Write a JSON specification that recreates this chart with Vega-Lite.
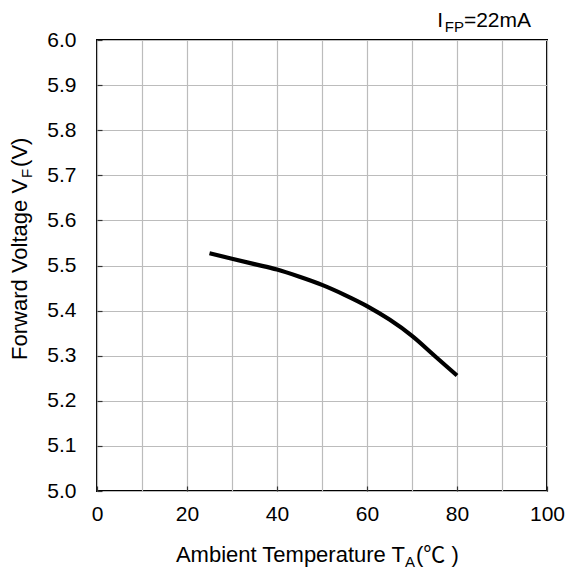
{
  "$schema": "https://vega.github.io/schema/vega-lite/v6.json",
  "width": 450,
  "height": 451,
  "autosize": "none",
  "padding": {"left": 97, "top": 40, "right": 23, "bottom": 81},
  "background": "white",
  "config": {
    "view": {"stroke": "black", "strokeWidth": 2},
    "font": "Liberation Sans",
    "axis": {
      "domain": false,
      "ticks": true,
      "tickSize": -5,
      "tickColor": "#333333",
      "tickWidth": 1.2,
      "labelFontSize": 21,
      "labelColor": "black",
      "labelFont": "Liberation Sans",
      "labelFlush": false,
      "labelOverlap": false,
      "gridColor": "#bcbcbc",
      "gridWidth": 1.2,
      "gridOpacity": 1,
      "title": null
    }
  },
  "layer": [
    {
      "data": {
        "values": [
          {"temp": 25, "vf": 5.527},
          {"temp": 30, "vf": 5.515},
          {"temp": 35, "vf": 5.503},
          {"temp": 40, "vf": 5.491},
          {"temp": 45, "vf": 5.475},
          {"temp": 50, "vf": 5.457},
          {"temp": 55, "vf": 5.435},
          {"temp": 60, "vf": 5.410},
          {"temp": 65, "vf": 5.380},
          {"temp": 70, "vf": 5.344},
          {"temp": 75, "vf": 5.300},
          {"temp": 80, "vf": 5.256}
        ]
      },
      "mark": {"type": "line", "interpolate": "monotone", "color": "black", "strokeWidth": 4.2},
      "encoding": {
        "x": {
          "field": "temp",
          "type": "quantitative",
          "scale": {"domain": [0, 100], "nice": false, "zero": false},
          "axis": {
            "values": [0, 10, 20, 30, 40, 50, 60, 70, 80, 90, 100],
            "labelExpr": "datum.value % 20 === 0 ? datum.label : ''",
            "tickOpacity": {"condition": {"test": "datum.value % 20 === 0", "value": 1}, "value": 0},
            "labelPadding": 17
          }
        },
        "y": {
          "field": "vf",
          "type": "quantitative",
          "scale": {"domain": [5.0, 6.0], "nice": false, "zero": false},
          "axis": {
            "values": [5.0, 5.1, 5.2, 5.3, 5.4, 5.5, 5.6, 5.7, 5.8, 5.9, 6.0],
            "format": ".1f",
            "labelPadding": 26
          }
        }
      }
    },
    {
      "data": {"values": [{"t": "Ambient Temperature T"}]},
      "mark": {"type": "text", "align": "right", "baseline": "alphabetic", "fontSize": 22, "dy": 71, "color": "black"},
      "encoding": {
        "x": {"datum": 68.44, "type": "quantitative"},
        "y": {"datum": 5.0, "type": "quantitative"},
        "text": {"field": "t"}
      }
    },
    {
      "data": {"values": [{"t": "A"}]},
      "mark": {"type": "text", "align": "left", "baseline": "alphabetic", "fontSize": 15, "dy": 76, "dx": 0, "color": "black"},
      "encoding": {
        "x": {"datum": 68.44, "type": "quantitative"},
        "y": {"datum": 5.0, "type": "quantitative"},
        "text": {"field": "t"}
      }
    },
    {
      "data": {"values": [{"t": "(℃ )"}]},
      "mark": {"type": "text", "align": "left", "baseline": "alphabetic", "fontSize": 22, "dy": 71, "dx": 11, "color": "black", "font": "Liberation Sans, Noto Sans CJK SC"},
      "encoding": {
        "x": {"datum": 68.44, "type": "quantitative"},
        "y": {"datum": 5.0, "type": "quantitative"},
        "text": {"field": "t"}
      }
    },
    {
      "data": {"values": [{"t": "Forward Voltage V"}]},
      "mark": {"type": "text", "align": "right", "baseline": "alphabetic", "fontSize": 22, "angle": 270, "dy": -70, "color": "black"},
      "encoding": {
        "x": {"datum": 0, "type": "quantitative"},
        "y": {"datum": 5.692, "type": "quantitative"},
        "text": {"field": "t"}
      }
    },
    {
      "data": {"values": [{"t": "F"}]},
      "mark": {"type": "text", "align": "left", "baseline": "alphabetic", "fontSize": 15, "angle": 270, "dy": -65, "dx": 1, "color": "black"},
      "encoding": {
        "x": {"datum": 0, "type": "quantitative"},
        "y": {"datum": 5.692, "type": "quantitative"},
        "text": {"field": "t"}
      }
    },
    {
      "data": {"values": [{"t": "(V)"}]},
      "mark": {"type": "text", "align": "left", "baseline": "alphabetic", "fontSize": 22, "angle": 270, "dy": -70, "dx": 12, "color": "black"},
      "encoding": {
        "x": {"datum": 0, "type": "quantitative"},
        "y": {"datum": 5.692, "type": "quantitative"},
        "text": {"field": "t"}
      }
    },
    {
      "data": {"values": [{"t": "=22mA"}]},
      "mark": {"type": "text", "align": "right", "baseline": "alphabetic", "fontSize": 21, "dy": -13.5, "dx": -16, "color": "black"},
      "encoding": {
        "x": {"datum": 100, "type": "quantitative"},
        "y": {"datum": 6.0, "type": "quantitative"},
        "text": {"field": "t"}
      }
    },
    {
      "data": {"values": [{"t": "FP"}]},
      "mark": {"type": "text", "align": "right", "baseline": "alphabetic", "fontSize": 15, "dy": -8.5, "dx": -83, "color": "black"},
      "encoding": {
        "x": {"datum": 100, "type": "quantitative"},
        "y": {"datum": 6.0, "type": "quantitative"},
        "text": {"field": "t"}
      }
    },
    {
      "data": {"values": [{"t": "I"}]},
      "mark": {"type": "text", "align": "right", "baseline": "alphabetic", "fontSize": 21, "dy": -13.5, "dx": -104, "color": "black"},
      "encoding": {
        "x": {"datum": 100, "type": "quantitative"},
        "y": {"datum": 6.0, "type": "quantitative"},
        "text": {"field": "t"}
      }
    }
  ]
}
